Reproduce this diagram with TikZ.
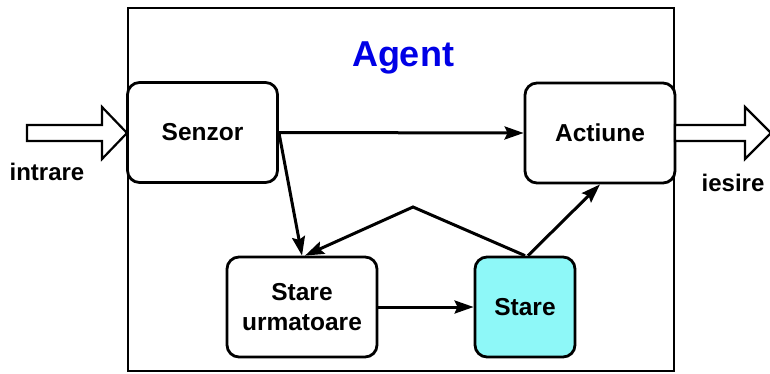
\documentclass[tikz,border=0pt]{standalone}
\usepackage{fontspec}
\setmainfont{Liberation Sans}
\usetikzlibrary{arrows.meta}
\definecolor{agentblue}{RGB}{0,0,230}
\definecolor{statecyan}{RGB}{142,248,248}
\tikzset{
  box/.style={draw=black, line width=2.8pt, rounded corners=12pt, fill=white,
    minimum height=100pt, inner sep=0pt, align=center,
    font=\fontsize{24.5}{30}\selectfont\bfseries},
  flow/.style={line width=3pt, -{Stealth[length=19pt,width=13pt,inset=3pt]}},
  label/.style={font=\fontsize{24}{29}\selectfont\bfseries},
  blockarrow/.style={draw=black, line width=2.2pt, fill=white, line join=miter},
}
\begin{document}
\begin{tikzpicture}[x=1pt,y=-1pt]
\useasboundingbox (0,0) rectangle (770,373);
% agent frame
\draw[line width=2.2pt] (128,8) rectangle (674,371);
\node[font=\fontsize{36}{40}\selectfont\bfseries, text=agentblue, anchor=base] (agent) at (403,66) {Agent};

% components
\node[box, minimum width=150pt] (senzor) at (202.5,132.5) {Senzor};
\node[box, minimum width=150pt] (actiune) at (600,133) {Actiune};
\node[box, minimum width=150pt] (urm) at (302,307) {Stare\\urmatoare};
\node[box, minimum width=100pt, fill=statecyan] (stare) at (525,307) {Stare};

% input / output block arrows
\draw[blockarrow] (27,125) -- (102,125) -- (102,107) -- (127,133) -- (102,159) -- (102,141) -- (27,141) -- cycle;
\draw[blockarrow] (675,125) -- (745,125) -- (745,107) -- (771,133) -- (745,159) -- (745,141) -- (675,141) -- cycle;
\node[label] (intrare) at (47,172) {intrare};
\node[label] (iesire) at (733,183) {iesire};

% connections
\coordinate (peak) at (413,207);
\draw[flow] (senzor.east) -- (actiune.west);
\draw[flow] (senzor.east) -- (urm.north);
\draw[flow] (stare.north) -- (peak) -- ([xshift=3pt]urm.north);
\draw[flow] ([xshift=3pt]stare.north) -- (actiune.south);
\draw[flow] (urm.east) -- (stare.west);
\end{tikzpicture}
\end{document}
